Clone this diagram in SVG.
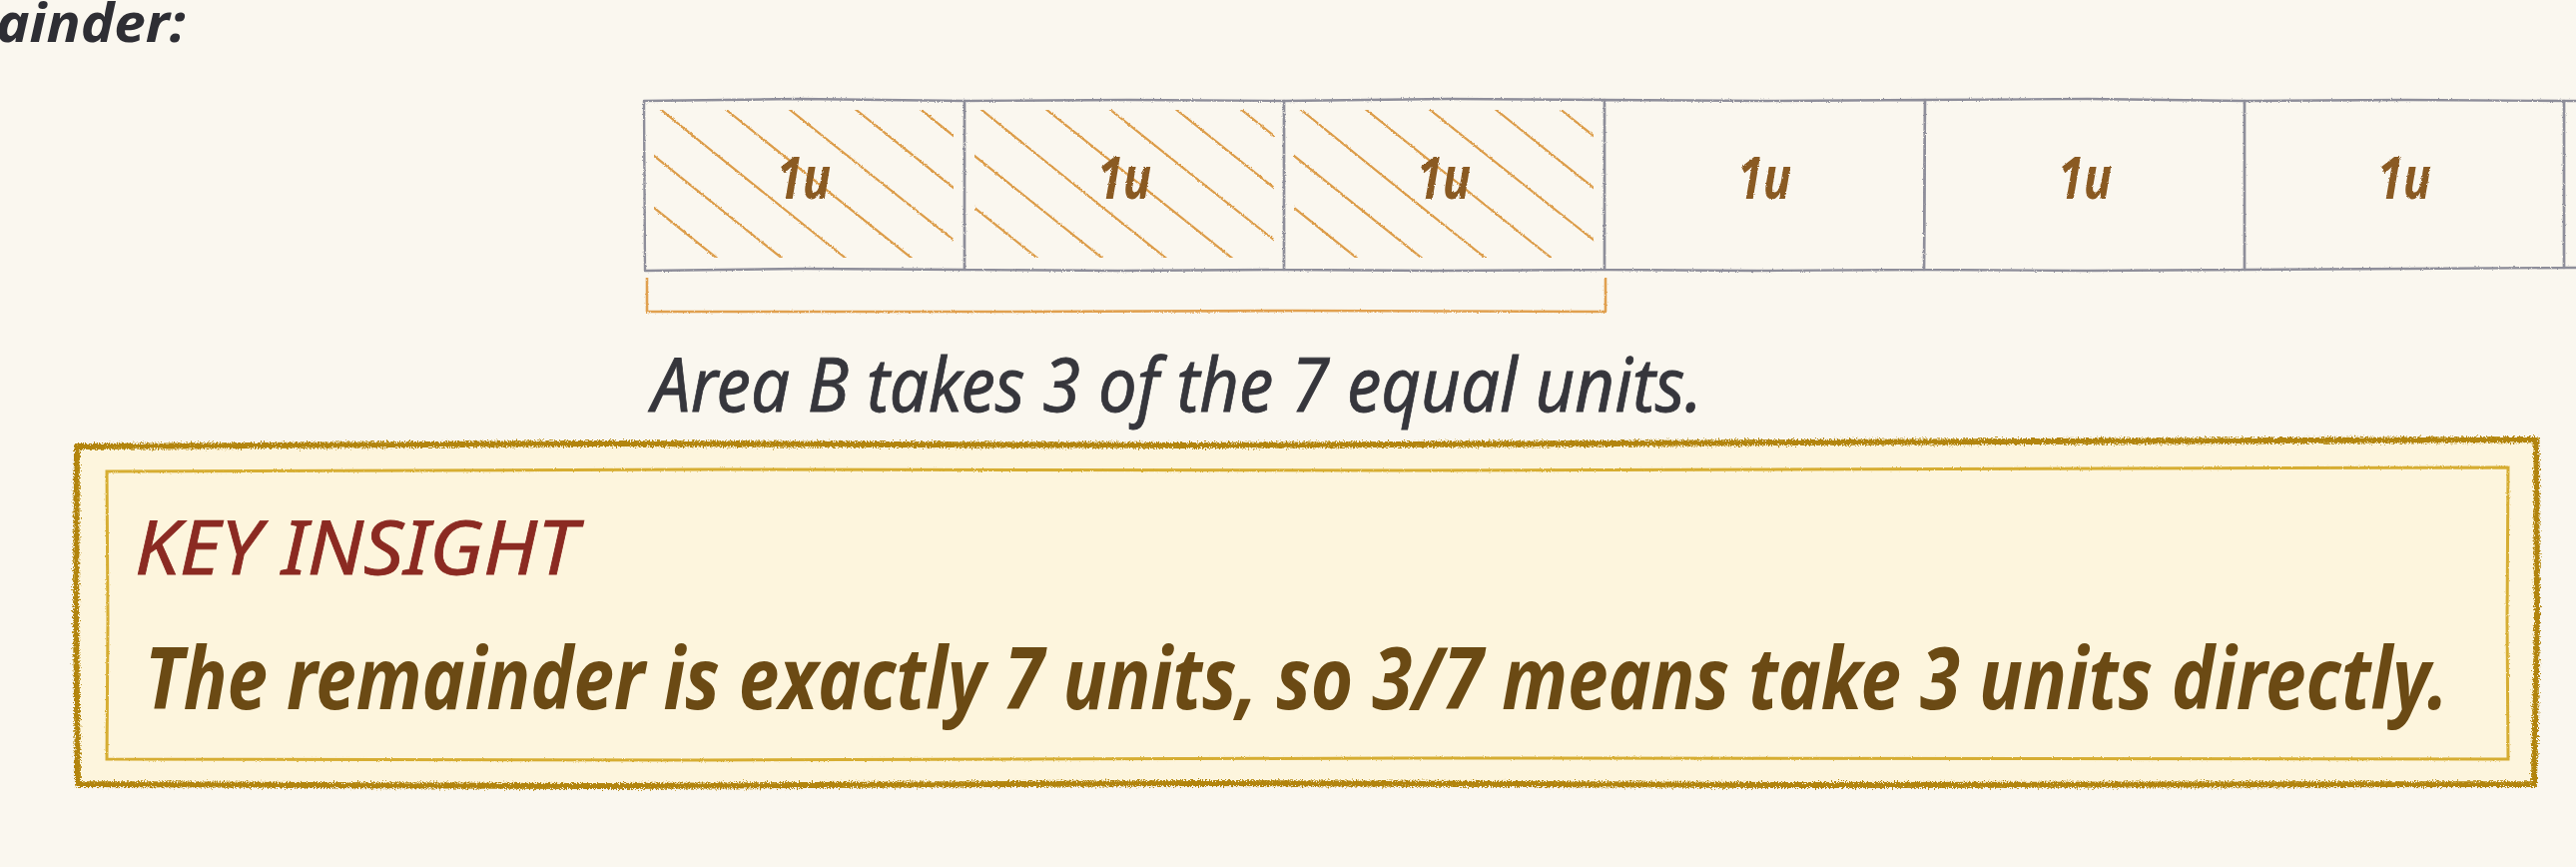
<svg xmlns="http://www.w3.org/2000/svg" width="2580" height="868" viewBox="0 0 2580 868">
<style>
.cellb{fill:none;stroke:#8e8e9a;stroke-width:2.4;stroke-linecap:round;stroke-linejoin:round}
.hl{stroke:#dc9c48;stroke-width:2.2;stroke-linecap:round;fill:none}
.lbl{font-family:"Noto Sans","Liberation Sans",sans-serif;font-style:italic;font-weight:700;font-size:60px;fill:#8a5a24;text-anchor:middle}
.cap{font-family:"Noto Sans","Liberation Sans",sans-serif;font-style:italic;font-size:74px;fill:#36363c;stroke:#36363c;stroke-width:0.8}
.top{font-family:"Noto Sans","Liberation Sans",sans-serif;font-style:italic;font-weight:700;font-size:54px;fill:#2e2e34}
.kh{font-family:"Noto Sans","Liberation Sans",sans-serif;font-style:italic;font-size:74px;fill:#8b2a22;stroke:#8b2a22;stroke-width:0.8}
.kb{font-family:"Noto Sans","Liberation Sans",sans-serif;font-style:italic;font-weight:700;font-size:86px;fill:#6b4a14}
</style>
<defs>
<filter id="pencil" filterUnits="userSpaceOnUse" x="-100" y="-100" width="2800" height="1100">
<feTurbulence type="fractalNoise" baseFrequency="0.9" numOctaves="2" seed="3" result="n"/>
<feDisplacementMap in="SourceGraphic" in2="n" scale="2.5" xChannelSelector="R" yChannelSelector="G"/>
</filter>
<filter id="crayon" filterUnits="userSpaceOnUse" x="-100" y="-100" width="2800" height="1100">
<feTurbulence type="fractalNoise" baseFrequency="0.7" numOctaves="2" seed="7" result="n"/>
<feDisplacementMap in="SourceGraphic" in2="n" scale="7" xChannelSelector="R" yChannelSelector="G"/>
</filter>
<clipPath id="hc"><rect x="10" y="10" width="300" height="148"/></clipPath>
<g id="hatch" clip-path="url(#hc)">
<path class="hl" d="M0,100 L321,356.8"/>
<path class="hl" d="M0,48 L321,304.8"/>
<path class="hl" d="M0,-4 Q150,118 321,252.8"/>
<path class="hl" d="M0,-56 L321,200.8"/>
<path class="hl" d="M0,-108 Q170,30 321,148.8"/>
<path class="hl" d="M0,-160 L321,96.8"/>
<path class="hl" d="M0,-212 L321,44.8"/>
</g>
</defs>
<rect x="0" y="0" width="2580" height="868" fill="#faf7ef"/>
<text class="top" x="-4" y="42" textLength="190" lengthAdjust="spacingAndGlyphs">ainder:</text>
<g id="bar" filter="url(#pencil)">
<g id="cell-1">
<use href="#hatch" x="645" y="100"/>
<path class="cellb" d="M645,101 L800,99 L966,101 L966,270 L805,269 L646,271 Z"/>
<text class="lbl" x="805" y="199" textLength="54" lengthAdjust="spacingAndGlyphs">1u</text>
</g>
<g id="cell-2">
<use href="#hatch" x="966" y="100"/>
<path class="cellb" d="M966,101 L1130,100 L1286,101 L1286,270 L1120,271 L966,270 Z"/>
<text class="lbl" x="1126" y="199" textLength="54" lengthAdjust="spacingAndGlyphs">1u</text>
</g>
<g id="cell-3">
<use href="#hatch" x="1286" y="100"/>
<path class="cellb" d="M1286,101 L1450,99 L1607,100 L1607,270 L1440,271 L1286,270 Z"/>
<text class="lbl" x="1446" y="199" textLength="54" lengthAdjust="spacingAndGlyphs">1u</text>
</g>
<g id="cell-4">
<path class="cellb" d="M1607,100 L1770,101 L1928,100 L1927,270 L1760,271 L1607,270 Z"/>
<text class="lbl" x="1767" y="199" textLength="54" lengthAdjust="spacingAndGlyphs">1u</text>
</g>
<g id="cell-5">
<path class="cellb" d="M1928,100 L2090,99 L2248,101 L2248,270 L2090,271 L1927,270 Z"/>
<text class="lbl" x="2088" y="199" textLength="54" lengthAdjust="spacingAndGlyphs">1u</text>
</g>
<g id="cell-6">
<path class="cellb" d="M2248,101 L2410,100 L2568,101 L2568,268 L2410,269 L2248,270 Z"/>
<text class="lbl" x="2408" y="199" textLength="54" lengthAdjust="spacingAndGlyphs">1u</text>
</g>
<g id="cell-7">
<path class="cellb" d="M2568,101 L2890,100 L2890,268 L2568,268 Z"/>
</g>
<path id="bracket" d="M648,278 L648,312 L1000,312 L1300,311 L1608,312 L1608,278" fill="none" stroke="#e0a050" stroke-width="2.6" stroke-linejoin="round"/>
</g>
<text id="caption" class="cap" x="653" y="412" textLength="1052" lengthAdjust="spacingAndGlyphs">Area B takes 3 of the 7 equal units.</text>
<g id="insight">
<path d="M77,447 L600,444 L1200,446 L1800,443 L2540,440 L2541,620 L2538,785 L1800,786 L1200,784 L600,787 L78,785 L76,620 Z" fill="#fdf5dd" stroke="#b28408" stroke-width="6" stroke-linejoin="round" filter="url(#crayon)"/>
<path d="M107,472 L700,470 L1400,471 L2512,468 L2511,620 L2512,760 L1400,759 L700,761 L107,760 L108,620 Z" fill="none" stroke="#d6ad30" stroke-width="3" filter="url(#pencil)"/>
<text class="kh" x="135" y="575" textLength="443" lengthAdjust="spacingAndGlyphs">KEY INSIGHT</text>
<text class="kb" x="145" y="710" textLength="2307" lengthAdjust="spacingAndGlyphs">The remainder is exactly 7 units, so 3/7 means take 3 units directly.</text>
</g>
</svg>
